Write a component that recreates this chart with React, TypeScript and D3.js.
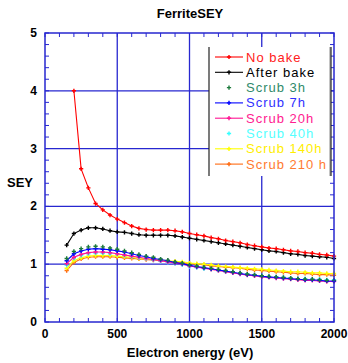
import React from 'react';
import * as d3 from 'd3';

// energies (eV)
const energyNoBake = d3.range(200, 2001, 50);
const energyOthers = d3.range(150, 2001, 50);

const noBake = [4.00, 2.65, 2.32, 2.05, 1.94, 1.85, 1.78, 1.72, 1.66, 1.62, 1.60, 1.59, 1.59, 1.59, 1.58, 1.56, 1.53, 1.51, 1.49, 1.46, 1.44, 1.41, 1.39, 1.37, 1.34, 1.32, 1.30, 1.28, 1.27, 1.25, 1.23, 1.22, 1.20, 1.19, 1.17, 1.16, 1.14];
const afterBake = [1.33, 1.53, 1.59, 1.63, 1.63, 1.61, 1.58, 1.56, 1.55, 1.53, 1.51, 1.50, 1.50, 1.50, 1.50, 1.49, 1.47, 1.45, 1.43, 1.41, 1.39, 1.37, 1.35, 1.33, 1.31, 1.29, 1.27, 1.25, 1.23, 1.22, 1.20, 1.18, 1.17, 1.15, 1.14, 1.13, 1.12, 1.10];
const scrub3h = [1.10, 1.22, 1.27, 1.30, 1.31, 1.30, 1.28, 1.26, 1.23, 1.20, 1.17, 1.14, 1.12, 1.09, 1.07, 1.04, 1.02, 0.99, 0.97, 0.95, 0.93, 0.91, 0.89, 0.87, 0.85, 0.83, 0.82, 0.80, 0.79, 0.78, 0.77, 0.76, 0.75, 0.74, 0.74, 0.73, 0.72, 0.72];
const scrub7h = [1.06, 1.18, 1.23, 1.26, 1.27, 1.26, 1.25, 1.23, 1.21, 1.18, 1.15, 1.13, 1.10, 1.08, 1.06, 1.03, 1.01, 0.98, 0.96, 0.94, 0.92, 0.90, 0.88, 0.86, 0.84, 0.82, 0.81, 0.79, 0.78, 0.77, 0.76, 0.75, 0.74, 0.73, 0.73, 0.72, 0.71, 0.71];
const scrub20h = [1.01, 1.12, 1.17, 1.20, 1.21, 1.21, 1.20, 1.18, 1.16, 1.14, 1.12, 1.10, 1.08, 1.06, 1.04, 1.02, 1.00, 0.97, 0.95, 0.93, 0.91, 0.89, 0.87, 0.85, 0.83, 0.81, 0.80, 0.78, 0.77, 0.76, 0.75, 0.74, 0.73, 0.72, 0.72, 0.71, 0.70, 0.70];
const scrub40h = [0.98, 1.10, 1.15, 1.18, 1.19, 1.19, 1.18, 1.17, 1.15, 1.13, 1.11, 1.09, 1.07, 1.05, 1.03, 1.01, 0.99, 0.96, 0.94, 0.92, 0.91, 0.89, 0.87, 0.86, 0.84, 0.83, 0.81, 0.80, 0.79, 0.78, 0.77, 0.76, 0.75, 0.75, 0.74, 0.74, 0.73, 0.73];
const scrub140h = [0.93, 1.06, 1.11, 1.14, 1.15, 1.15, 1.15, 1.14, 1.13, 1.12, 1.10, 1.09, 1.08, 1.07, 1.06, 1.05, 1.04, 1.02, 1.01, 1.00, 0.99, 0.97, 0.96, 0.95, 0.94, 0.93, 0.92, 0.91, 0.90, 0.89, 0.88, 0.87, 0.87, 0.86, 0.85, 0.85, 0.84, 0.84];
const scrub210h = [0.89, 1.03, 1.09, 1.12, 1.13, 1.13, 1.13, 1.12, 1.11, 1.10, 1.09, 1.08, 1.07, 1.06, 1.05, 1.04, 1.02, 1.01, 1.00, 0.99, 0.97, 0.96, 0.95, 0.94, 0.93, 0.91, 0.90, 0.89, 0.88, 0.87, 0.86, 0.85, 0.84, 0.84, 0.83, 0.82, 0.82, 0.81];

const xTicks = [0, 500, 1000, 1500, 2000];
const yTicks = [0, 1, 2, 3, 4, 5];

const series = [
  { name: 'No bake', x: energyNoBake, y: noBake, color: '#ff0000', text: '#ff2020', line: true },
  { name: 'After bake', x: energyOthers, y: afterBake, color: '#000000', text: '#000000', line: true },
  { name: 'Scrub 3h', x: energyOthers, y: scrub3h, color: '#1d7a3c', text: '#2f8a6a', line: false },
  { name: 'Scrub 7h', x: energyOthers, y: scrub7h, color: '#0000ff', text: '#3030ff', line: true },
  { name: 'Scrub 20h', x: energyOthers, y: scrub20h, color: '#ff1493', text: '#ff2090', line: true },
  { name: 'Scrub 40h', x: energyOthers, y: scrub40h, color: '#33ffff', text: '#55ffff', line: false },
  { name: 'Scrub 140h', x: energyOthers, y: scrub140h, color: '#ffff00', text: '#ffee00', line: true },
  { name: 'Scrub 210 h', x: energyOthers, y: scrub210h, color: '#ff6a10', text: '#ff7a30', line: true },
];

const AXIS = '#2727d0';
const FONT = 'Arial, "Liberation Sans", sans-serif';

export default function App() {
  const left = 45, right = 334, top = 33, bottom = 322;
  const x = d3.scaleLinear().domain([0, 2000]).range([left, right]);
  const y = d3.scaleLinear().domain([0, 5]).range([bottom, top]);
  const marker = d3.symbol(d3.symbolCross, 10)() as string;

  const xMinor = d3.range(0, 2001, 100);
  const yMinor = d3.range(0, 5.001, 0.2);

  const legendX = 209, legendTop = 47, legendBottom = 176, legendRight = 331;
  const rowY = (i: number) => 57 + i * 15.3;

  return (
    <svg width={348} height={363} style={{ position: 'absolute', left: 0, top: 0, background: '#fff' }}>
      <text x={190} y={18} textAnchor="middle" fontFamily={FONT} fontWeight="bold" fontSize={13}>FerriteSEY</text>

      {/* grid */}
      {xTicks.slice(1, -1).map(t => (
        <line key={'gx' + t} x1={x(t)} x2={x(t)} y1={top} y2={bottom} stroke={AXIS} strokeWidth={1.3} />
      ))}
      {yTicks.slice(1, -1).map(t => (
        <line key={'gy' + t} x1={left} x2={right} y1={y(t)} y2={y(t)} stroke={AXIS} strokeWidth={1.3} />
      ))}

      {/* minor ticks */}
      {xMinor.map(t => (
        <g key={'mx' + t}>
          <line x1={x(t)} x2={x(t)} y1={bottom} y2={bottom - 4} stroke={AXIS} />
          <line x1={x(t)} x2={x(t)} y1={top} y2={top + 4} stroke={AXIS} />
        </g>
      ))}
      {yMinor.map(t => (
        <g key={'my' + t}>
          <line x1={left} x2={left + 4} y1={y(t)} y2={y(t)} stroke={AXIS} />
          <line x1={right} x2={right - 4} y1={y(t)} y2={y(t)} stroke={AXIS} />
        </g>
      ))}

      {/* legend box */}
      <rect x={legendX} y={legendTop} width={legendRight - legendX} height={legendBottom - legendTop} fill="#fff" />
      <line x1={legendX} x2={legendX} y1={legendTop} y2={legendBottom} stroke="#222" strokeWidth={1.2} />
      <line x1={legendRight - 1} x2={legendRight - 1} y1={legendTop} y2={legendBottom} stroke="#888" strokeWidth={1} />
      <line x1={legendRight} x2={legendRight} y1={legendTop} y2={legendBottom} stroke="#222" strokeWidth={1.2} />

      {/* series, last drawn at bottom */}
      {[...series].reverse().map(s => {
        const pts = s.x.map((e, i) => [e, s.y[i]] as [number, number]);
        const path = d3.line<[number, number]>().x(d => x(d[0])).y(d => y(d[1]))(pts) as string;
        return (
          <g key={s.name}>
            {s.line && <path d={path} fill="none" stroke={s.color} strokeWidth={1.1} />}
            {pts.map((d, i) => (
              <path key={i} d={marker} transform={`translate(${x(d[0])},${y(d[1])})`} fill={s.color} />
            ))}
          </g>
        );
      })}

      {/* frame */}
      <rect x={left} y={top} width={right - left} height={bottom - top} fill="none" stroke={AXIS} strokeWidth={1.5} />

      {/* legend entries */}
      {series.map((s, i) => (
        <g key={'lg' + s.name}>
          {s.line && <line x1={215} x2={243} y1={rowY(i)} y2={rowY(i)} stroke={s.color} strokeWidth={1.1} />}
          <path d={marker} transform={`translate(229,${rowY(i)})`} fill={s.color} />
          <text x={246} y={rowY(i) + 4.5} fontFamily={FONT} fontSize={13} fill={s.text} letterSpacing={1.0}>{s.name}</text>
        </g>
      ))}

      {/* tick labels */}
      {xTicks.map(t => (
        <text key={'xl' + t} x={x(t)} y={338} textAnchor="middle" fontFamily={FONT} fontWeight="bold" fontSize={12}>{t}</text>
      ))}
      {yTicks.map(t => (
        <text key={'yl' + t} x={37} y={y(t) + 4} textAnchor="end" fontFamily={FONT} fontWeight="bold" fontSize={12}>{t}</text>
      ))}

      <text x={20} y={187} textAnchor="middle" fontFamily={FONT} fontWeight="bold" fontSize={13}>SEY</text>
      <text x={190} y={357} textAnchor="middle" fontFamily={FONT} fontWeight="bold" fontSize={13}>Electron energy (eV)</text>
    </svg>
  );
}
